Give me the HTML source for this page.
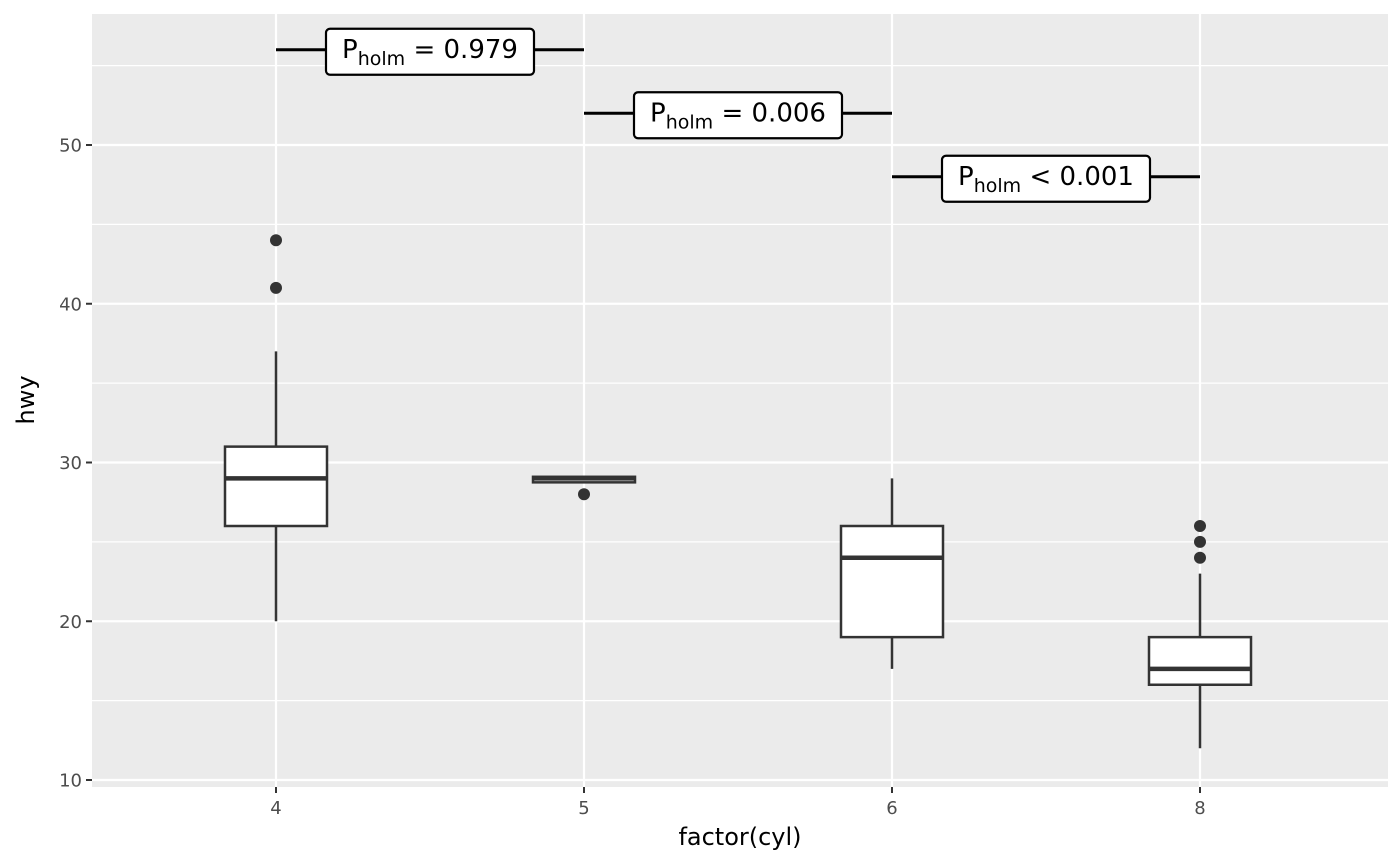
<!DOCTYPE html>
<html><head><meta charset="utf-8"><style>
body{margin:0;background:#fff}
svg{display:block;font-family:"DejaVu Sans","Liberation Sans",sans-serif}
</style></head><body>
<svg id="chart" width="1400" height="866"></svg>
<script>
const categories=["4","5","6","8"];
const q1=[26,28.75,19,16];
const medians=[29,29,24,17];
const q3=[31,29.1,26,19];
const whiskLo=[20,29,17,12];
const whiskHi=[37,29,29,23];
const outliers=[[44,41],[28],[],[24,25,26]];
const yTicks=[10,20,30,40,50];
const yMinor=[15,25,35,45,55];
const comparisons=[{a:0,b:1,y:56,op:"=",p:"0.979"},{a:1,b:2,y:52,op:"=",p:"0.006"},{a:2,b:3,y:48,op:"<",p:"0.001"}];

const NS="http://www.w3.org/2000/svg";
const svg=document.getElementById('chart');
const L=92,R=1388,T=14,B=787;
const yS=v=>780-(v-10)*15.875;
const xS=i=>276+i*308;
function el(t,a,p){const e=document.createElementNS(NS,t);for(const k in a)e.setAttribute(k,a[k]);(p||svg).appendChild(e);return e;}
const panel=el('rect',{x:L,y:T,width:R-L,height:B-T,fill:'#ebebeb'});


yMinor.forEach(v=>{const g=el('line',{x1:L,x2:R,y1:yS(v),y2:yS(v),stroke:'#fff','stroke-width':1.2});

});
yTicks.forEach(v=>{const g=el('line',{x1:L,x2:R,y1:yS(v),y2:yS(v),stroke:'#fff','stroke-width':2.2});


const tk=el('line',{x1:L-6,x2:L,y1:yS(v),y2:yS(v),stroke:'#333','stroke-width':2});


const t=el('text',{x:L-10,y:yS(v)+6.5,'text-anchor':'end','font-size':18,fill:'#4d4d4d'});t.textContent=v;

});
categories.forEach((c,i)=>{const x=xS(i);
const g=el('line',{x1:x,x2:x,y1:T,y2:B,stroke:'#fff','stroke-width':2.2});


const tk=el('line',{x1:x,x2:x,y1:B,y2:B+6,stroke:'#333','stroke-width':2});


const t=el('text',{x:x,y:B+27,'text-anchor':'middle','font-size':18,fill:'#4d4d4d'});t.textContent=c;

});
categories.forEach((c,i)=>{const x=xS(i),w=51;
const g=el('g',{});


el('line',{x1:x,x2:x,y1:yS(whiskHi[i]),y2:yS(q3[i]),stroke:'#333','stroke-width':2.5},g);
el('line',{x1:x,x2:x,y1:yS(q1[i]),y2:yS(whiskLo[i]),stroke:'#333','stroke-width':2.5},g);
el('rect',{x:x-w,y:yS(q3[i]),width:2*w,height:Math.max(yS(q1[i])-yS(q3[i]),0.5),fill:'#fff',stroke:'#333','stroke-width':2.5},g);
el('line',{x1:x-w,x2:x+w,y1:yS(medians[i]),y2:yS(medians[i]),stroke:'#333','stroke-width':4.5},g);
outliers[i].forEach(v=>{const o=el('circle',{cx:x,cy:yS(v),r:6,fill:'#333'},g);

});});
comparisons.forEach(c=>{const x1=xS(c.a),x2=xS(c.b),y=yS(c.y),cx=(x1+x2)/2;
const g=el('g',{});


el('line',{x1:x1,x2:x2,y1:y,y2:y,stroke:'#000','stroke-width':3},g);
el('rect',{x:cx-104,y:y-21,width:208,height:46,rx:4,fill:'#fff',stroke:'#000','stroke-width':2.2},g);
const t=el('text',{x:cx,y:y+8,'text-anchor':'middle','font-size':26,fill:'#000'},g);
t.innerHTML='P<tspan font-size="19" dy="7">holm</tspan><tspan dy="-7">'+(c.op=='<'?' &lt; ':' = ')+c.p+'</tspan>';

});
const xt=el('text',{x:(L+R)/2,y:845,'text-anchor':'middle','font-size':24,fill:'#000'});xt.textContent='factor(cyl)';


const yt=el('text',{x:0,y:0,'text-anchor':'middle','font-size':24,fill:'#000',transform:'translate(34,400) rotate(-90)'});yt.textContent='hwy';


</script>
</body></html>
